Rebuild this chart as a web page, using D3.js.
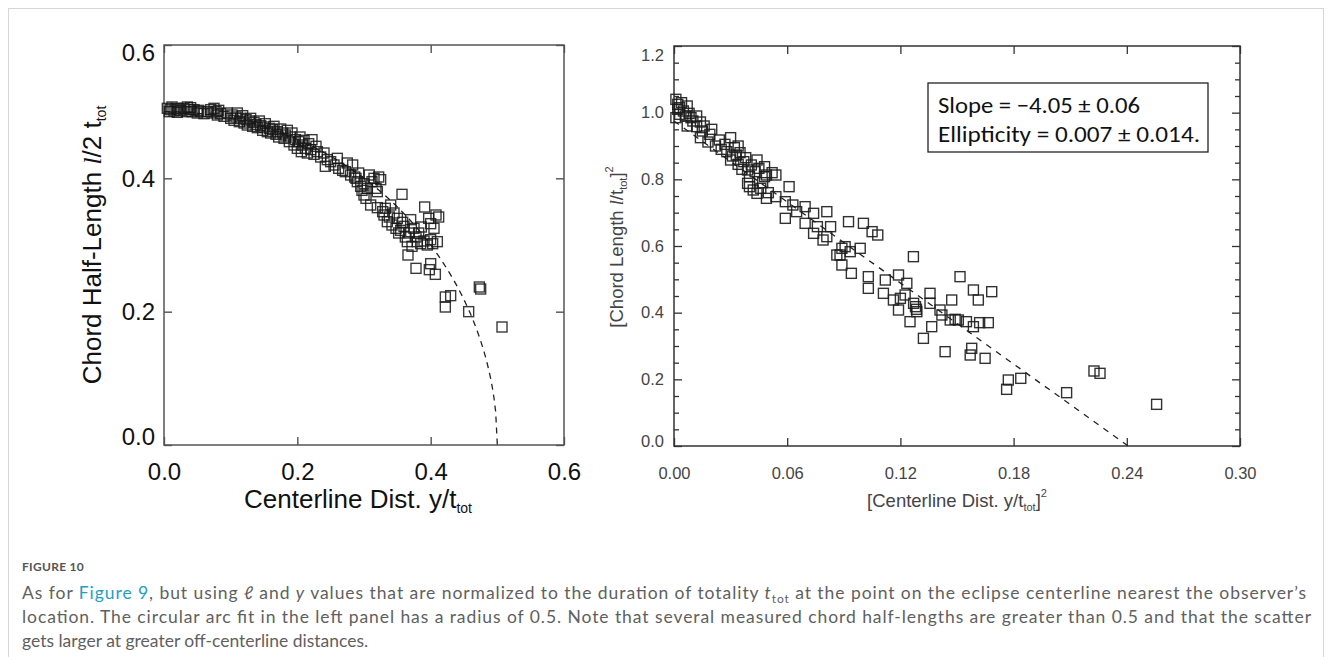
<!DOCTYPE html>
<html>
<head>
<meta charset="utf-8">
<script src="https://cdn.jsdelivr.net/npm/d3@7"></script>
<style>
  body { margin: 0; background: #fff; }
  svg { display: block; }
</style>
</head>
<body>
<svg id="chart" width="1332" height="657"></svg>
<script>
// left panel: centerline distance y/t_tot vs chord half-length l/2 t_tot
const leftPoints = [
  [0.005,0.505],[0.008,0.500],[0.010,0.503],[0.012,0.507],[0.015,0.501],[0.018,0.505],[0.020,0.499],
  [0.022,0.504],[0.025,0.502],[0.030,0.505],[0.033,0.500],[0.035,0.507],[0.038,0.503],[0.040,0.506],
  [0.042,0.500],[0.045,0.503],[0.050,0.498],[0.052,0.502],[0.055,0.500],[0.060,0.497],[0.065,0.500],
  [0.070,0.503],[0.072,0.498],[0.075,0.505],[0.078,0.500],[0.080,0.495],[0.082,0.502],[0.085,0.497],
  [0.090,0.493],[0.095,0.498],[0.100,0.490],[0.102,0.495],[0.105,0.487],[0.108,0.492],[0.110,0.498],
  [0.113,0.485],[0.115,0.490],[0.118,0.494],[0.120,0.483],[0.123,0.488],[0.125,0.480],[0.128,0.486],
  [0.130,0.490],[0.133,0.478],[0.135,0.484],[0.138,0.481],[0.140,0.476],[0.143,0.486],[0.145,0.479],
  [0.148,0.472],[0.150,0.477],[0.152,0.482],[0.155,0.470],[0.158,0.475],[0.160,0.468],[0.163,0.473],
  [0.165,0.478],[0.168,0.466],[0.170,0.470],[0.172,0.462],[0.175,0.474],[0.178,0.468],[0.180,0.460],
  [0.182,0.465],[0.185,0.472],[0.188,0.455],[0.190,0.462],[0.192,0.468],[0.195,0.450],[0.197,0.458],
  [0.200,0.445],[0.202,0.455],[0.204,0.462],[0.206,0.440],[0.208,0.450],[0.210,0.457],[0.212,0.445],
  [0.215,0.438],[0.217,0.452],[0.220,0.443],[0.222,0.458],[0.225,0.436],[0.228,0.448],[0.230,0.440],
  [0.235,0.432],[0.240,0.438],[0.242,0.418],[0.245,0.428],[0.250,0.425],[0.255,0.420],[0.260,0.430],
  [0.262,0.415],[0.268,0.412],[0.272,0.410],[0.275,0.423],[0.280,0.405],[0.283,0.420],[0.286,0.402],
  [0.288,0.400],[0.290,0.395],[0.292,0.408],[0.295,0.388],[0.297,0.382],[0.300,0.392],[0.300,0.375],
  [0.303,0.370],[0.305,0.385],[0.308,0.405],[0.310,0.360],[0.312,0.395],[0.315,0.400],[0.318,0.385],
  [0.320,0.380],[0.320,0.356],[0.322,0.402],[0.325,0.398],[0.328,0.350],[0.330,0.345],[0.332,0.355],
  [0.335,0.335],[0.338,0.342],[0.340,0.360],[0.342,0.330],[0.345,0.348],[0.348,0.325],[0.350,0.340],
  [0.352,0.318],[0.355,0.322],[0.357,0.376],[0.358,0.334],[0.360,0.328],[0.362,0.312],[0.365,0.305],
  [0.368,0.318],[0.370,0.338],[0.372,0.298],[0.375,0.325],[0.378,0.312],[0.380,0.305],[0.382,0.318],
  [0.385,0.302],[0.386,0.327],[0.390,0.306],[0.391,0.357],[0.395,0.300],[0.397,0.340],[0.400,0.308],
  [0.400,0.332],[0.403,0.302],[0.405,0.325],[0.408,0.345],[0.410,0.305],[0.412,0.342],
  [0.366,0.285],[0.378,0.265],[0.398,0.263],[0.400,0.272],[0.407,0.256],[0.422,0.222],[0.422,0.207],
  [0.430,0.224],[0.457,0.200],[0.473,0.237],[0.475,0.234],[0.507,0.177]
];

// right panel: [y/t_tot]^2 vs [l/t_tot]^2
const rightPoints = [
  [0.001,1.040],[0.002,1.025],[0.002,1.010],[0.003,0.995],[0.001,0.985],[0.004,1.030],[0.005,1.005],
  [0.006,0.990],[0.003,1.015],[0.007,1.020],[0.008,0.998],[0.009,0.985],[0.010,0.975],[0.007,0.960],
  [0.012,0.990],[0.012,0.958],[0.014,0.972],[0.015,0.945],[0.016,0.960],[0.014,0.925],[0.018,0.912],
  [0.019,0.935],[0.020,0.950],[0.022,0.900],[0.024,0.918],[0.025,0.890],[0.027,0.905],[0.028,0.883],
  [0.030,0.858],[0.030,0.925],[0.031,0.870],[0.032,0.895],[0.033,0.873],[0.034,0.900],[0.034,0.845],
  [0.035,0.880],[0.036,0.830],[0.037,0.853],[0.038,0.865],[0.039,0.788],[0.039,0.828],[0.040,0.808],
  [0.040,0.778],[0.041,0.843],[0.042,0.768],[0.043,0.823],[0.044,0.858],[0.044,0.758],[0.045,0.833],
  [0.046,0.773],[0.047,0.790],[0.048,0.838],[0.048,0.808],[0.049,0.743],[0.049,0.813],[0.050,0.760],
  [0.052,0.820],[0.054,0.813],[0.054,0.748],
  [0.059,0.733],[0.059,0.683],[0.061,0.778],[0.063,0.723],[0.065,0.703],[0.0695,0.718],[0.0695,0.668],
  [0.074,0.698],[0.074,0.638],[0.076,0.658],[0.079,0.618],[0.081,0.703],[0.081,0.628],[0.083,0.658],
  [0.0863,0.573],[0.088,0.573],[0.089,0.593],[0.089,0.543],[0.0907,0.598],[0.0925,0.673],[0.0934,0.583],
  [0.094,0.518],[0.0987,0.593],[0.1004,0.668],[0.105,0.643],[0.108,0.633],[0.103,0.508],[0.103,0.473],
  [0.111,0.458],[0.112,0.498],[0.1163,0.438],[0.119,0.513],[0.119,0.408],[0.120,0.443],[0.1225,0.453],
  [0.1234,0.488],[0.1251,0.373],[0.1269,0.568],[0.127,0.428],[0.128,0.418],[0.1285,0.410],[0.1287,0.403],
  [0.1322,0.323],[0.1357,0.458],[0.1357,0.428],[0.1366,0.358],[0.141,0.408],[0.142,0.393],[0.1437,0.283],
  [0.1464,0.378],[0.1472,0.438],[0.149,0.380],[0.1507,0.378],[0.1516,0.508],[0.155,0.373],[0.157,0.273],
  [0.1578,0.293],[0.1587,0.468],[0.1587,0.358],[0.1613,0.438],[0.162,0.370],[0.1649,0.263],[0.1666,0.370],
  [0.1684,0.463],[0.1763,0.170],[0.1772,0.198],[0.1838,0.203],[0.2081,0.160],[0.2226,0.225],[0.2258,0.218],
  [0.2558,0.125]
];

const leftTicks = [0, 0.2, 0.4, 0.6];
const rightXTicks = [0, 0.06, 0.12, 0.18, 0.24, 0.30];
const rightYTicks = [0, 0.2, 0.4, 0.6, 0.8, 1.0, 1.2];
const rightYMinor = [0.05,0.1,0.15,0.25,0.3,0.35,0.45,0.5,0.55,0.65,0.7,0.75,0.85,0.9,0.95,1.05,1.1,1.15];

// fits
const arcRadius = 0.5;
const fitSlope = -4.05;
const fitIntercept = 0.975;
const fitText = ['Slope = \u22124.05 \u00b1 0.06', 'Ellipticity = 0.007 \u00b1 0.014.'];

const captionLines = [
  'As for Figure 9, but using \u2113 and y values that are normalized to the duration of totality t_tot at the point on the eclipse centerline nearest the observer\u2019s',
  'location. The circular arc fit in the left panel has a radius of 0.5. Note that several measured chord half-lengths are greater than 0.5 and that the scatter',
  'gets larger at greater off-centerline distances.'
];

const svg = d3.select('#chart');

// figure border
svg.append('rect')
  .attr('x', 8.5).attr('y', 8.5)
  .attr('width', 1315).attr('height', 700)
  .attr('fill', 'none').attr('stroke', '#d6d6d6');

// ---------- left panel ----------
const L = { left: 164, top: 45, width: 400, height: 400 };
const xL = d3.scaleLinear().domain([0, 0.6]).range([L.left, L.left + L.width]);
const yL = d3.scaleLinear().domain([0, 0.6]).range([L.top + L.height, L.top]);
const gL = svg.append('g');

const fontL = '"Liberation Sans", Arial, Helvetica, sans-serif';

gL.append('g').attr('transform', `translate(0,${L.top + L.height})`)
  .call(d3.axisBottom(xL).tickValues(leftTicks).tickFormat(d3.format('.1f')).tickSize(-8).tickPadding(18))
  .call(g => g.select('.domain').remove())
  .call(g => g.selectAll('text').attr('font-size', 24).attr('font-family', fontL).attr('fill', '#111'));
gL.append('g').attr('transform', `translate(0,${L.top})`)
  .call(d3.axisTop(xL).tickValues(leftTicks).tickFormat('').tickSize(-8))
  .call(g => g.select('.domain').remove());
gL.append('g').attr('transform', `translate(${L.left},0)`)
  .call(d3.axisLeft(yL).tickValues(leftTicks).tickFormat(d3.format('.1f')).tickSize(-8).tickPadding(9))
  .call(g => g.select('.domain').remove())
  .call(g => g.selectAll('text').attr('font-size', 24).attr('font-family', fontL).attr('fill', '#111')
    .attr('y', d => d === 0.6 ? 8 : (d === 0 ? -8 : 0)));
gL.append('g').attr('transform', `translate(${L.left + L.width},0)`)
  .call(d3.axisRight(yL).tickValues(leftTicks).tickFormat('').tickSize(-8))
  .call(g => g.select('.domain').remove());
gL.selectAll('.tick line').attr('stroke', '#444').attr('stroke-width', 1.3);

gL.append('rect')
  .attr('x', L.left).attr('y', L.top).attr('width', L.width).attr('height', L.height)
  .attr('fill', 'none').attr('stroke', '#555').attr('stroke-width', 1.5);

// circular arc fit
const arc = d3.range(0, 201).map(i => {
  const x = arcRadius * i / 200;
  return [x, Math.sqrt(Math.max(0, arcRadius * arcRadius - x * x))];
});
gL.append('path')
  .datum(arc)
  .attr('d', d3.line().x(d => xL(d[0])).y(d => yL(d[1])))
  .attr('fill', 'none').attr('stroke', '#222').attr('stroke-width', 1.3)
  .attr('stroke-dasharray', '6,5');

const sqL = 10;
gL.selectAll('rect.pt')
  .data(leftPoints)
  .enter().append('rect')
  .attr('class', 'pt')
  .attr('x', d => xL(d[0]) - sqL / 2)
  .attr('y', d => yL(d[1]) - sqL / 2)
  .attr('width', sqL).attr('height', sqL)
  .attr('fill', 'none').attr('stroke', '#181818').attr('stroke-width', 1.4).attr('stroke-opacity', 0.85);

// titles
const tL = gL.append('text')
  .attr('x', 358).attr('y', 508)
  .attr('text-anchor', 'middle')
  .attr('font-family', fontL).attr('font-size', 26).attr('fill', '#111');
tL.append('tspan').text('Centerline Dist. y/t');
tL.append('tspan').attr('font-size', 14).attr('dy', 5).text('tot');

const tLy = gL.append('text')
  .attr('transform', 'translate(101,245) rotate(-90)')
  .attr('text-anchor', 'middle')
  .attr('font-family', fontL).attr('font-size', 26).attr('fill', '#111');
tLy.append('tspan').text('Chord Half-Length ');
tLy.append('tspan').attr('font-family', '"Liberation Serif", serif').attr('font-style', 'italic').text('l');
tLy.append('tspan').text('/2 t');
tLy.append('tspan').attr('font-size', 14).attr('dy', 5).text('tot');

// ---------- right panel ----------
const R = { left: 674, top: 46, width: 566, height: 400 };
const xR = d3.scaleLinear().domain([0, 0.3]).range([R.left, R.left + R.width]);
const yR = d3.scaleLinear().domain([0, 1.2]).range([R.top + R.height, R.top]);
const gR = svg.append('g');
const fontR = '"Liberation Sans", Arial, sans-serif';

gR.append('g').attr('transform', `translate(0,${R.top + R.height})`)
  .call(d3.axisBottom(xR).tickValues(rightXTicks).tickFormat(d3.format('.2f')).tickSize(-8).tickPadding(21))
  .call(g => g.select('.domain').remove())
  .call(g => g.selectAll('text').attr('font-size', 16.5).attr('font-family', fontR).attr('fill', '#444'));
gR.append('g').attr('transform', `translate(0,${R.top})`)
  .call(d3.axisTop(xR).tickValues(rightXTicks).tickFormat('').tickSize(-8))
  .call(g => g.select('.domain').remove());
gR.append('g').attr('transform', `translate(${R.left},0)`)
  .call(d3.axisLeft(yR).tickValues(rightYTicks).tickFormat(d3.format('.1f')).tickSize(-8).tickPadding(10))
  .call(g => g.select('.domain').remove())
  .call(g => g.selectAll('text').attr('font-size', 16.5).attr('font-family', fontR).attr('fill', '#444')
    .attr('y', d => d === 1.2 ? 9 : (d === 0 ? -5 : 0)));
gR.append('g').attr('transform', `translate(${R.left + R.width},0)`)
  .call(d3.axisRight(yR).tickValues(rightYTicks).tickFormat('').tickSize(-8))
  .call(g => g.select('.domain').remove());
gR.append('g').attr('transform', `translate(${R.left},0)`)
  .call(d3.axisLeft(yR).tickValues(rightYMinor).tickFormat('').tickSize(-5))
  .call(g => g.select('.domain').remove());
gR.append('g').attr('transform', `translate(${R.left + R.width},0)`)
  .call(d3.axisRight(yR).tickValues(rightYMinor).tickFormat('').tickSize(-5))
  .call(g => g.select('.domain').remove());
gR.selectAll('.tick line').attr('stroke', '#333').attr('stroke-width', 1.3);

gR.append('rect')
  .attr('x', R.left).attr('y', R.top).attr('width', R.width).attr('height', R.height)
  .attr('fill', 'none').attr('stroke', '#333').attr('stroke-width', 1.5);

// linear fit
const xEnd = -fitIntercept / fitSlope;
gR.append('path')
  .datum([[0, fitIntercept], [xEnd, 0]])
  .attr('d', d3.line().x(d => xR(d[0])).y(d => yR(d[1])))
  .attr('fill', 'none').attr('stroke', '#222').attr('stroke-width', 1.3)
  .attr('stroke-dasharray', '6,6');

const sqR = 10;
gR.selectAll('rect.pt')
  .data(rightPoints)
  .enter().append('rect')
  .attr('class', 'pt')
  .attr('x', d => xR(d[0]) - sqR / 2)
  .attr('y', d => yR(d[1]) - sqR / 2)
  .attr('width', sqR).attr('height', sqR)
  .attr('fill', 'none').attr('stroke', '#1c1c1c').attr('stroke-width', 1.4).attr('stroke-opacity', 0.9);

// fit box
gR.append('rect')
  .attr('x', 928).attr('y', 83).attr('width', 280).attr('height', 69)
  .attr('fill', '#fff').attr('stroke', '#222').attr('stroke-width', 1.3);
const boxW = [202, 262];
fitText.forEach((t, i) => {
  gR.append('text')
    .attr('x', 938).attr('y', 113 + i * 28.5)
    .attr('font-family', 'Carlito, Calibri, Lato, sans-serif')
    .attr('font-size', 23).attr('fill', '#111')
    .attr('textLength', boxW[i]).attr('lengthAdjust', 'spacingAndGlyphs')
    .text(t);
});

// titles
const tR = gR.append('text')
  .attr('x', 957).attr('y', 507)
  .attr('text-anchor', 'middle')
  .attr('font-family', fontR).attr('font-size', 18.5).attr('fill', '#444');
tR.append('tspan').text('[Centerline Dist. y/t');
tR.append('tspan').attr('font-size', 11).attr('dy', 4).text('tot');
tR.append('tspan').attr('dy', -4).text(']');
tR.append('tspan').attr('font-size', 11).attr('dy', -10).text('2');

const tRy = gR.append('text')
  .attr('transform', 'translate(623,247) rotate(-90)')
  .attr('text-anchor', 'middle')
  .attr('font-family', fontR).attr('font-size', 18.5).attr('fill', '#444');
tRy.append('tspan').text('[Chord Length ');
tRy.append('tspan').attr('font-family', '"Liberation Serif", serif').attr('font-style', 'italic').text('l');
tRy.append('tspan').text('/t');
tRy.append('tspan').attr('font-size', 11).attr('dy', 4).text('tot');
tRy.append('tspan').attr('dy', -4).text(']');
tRy.append('tspan').attr('font-size', 11).attr('dy', -10).text('2');

// ---------- caption ----------
const capFont = 'Lato, "Open Sans", sans-serif';
svg.append('text')
  .attr('x', 22).attr('y', 571)
  .attr('font-family', capFont).attr('font-size', 12).attr('font-weight', 'bold')
  .attr('fill', '#555').attr('letter-spacing', 0.3)
  .text('FIGURE 10');

const capW = [1284, 1289, null];
const capY = [599, 623, 647];
captionLines.forEach((line, i) => {
  const t = svg.append('text')
    .attr('x', 22).attr('y', capY[i])
    .attr('font-family', capFont).attr('font-size', 17.5).attr('fill', '#5f5f5f');
  if (i === 0) {
    t.append('tspan').text('As for ');
    t.append('tspan').attr('fill', '#1f9ec2').text('Figure 9');
    t.append('tspan').text(', but using ');
    t.append('tspan').attr('font-style', 'italic').text('\u2113');
    t.append('tspan').text(' and ');
    t.append('tspan').attr('font-style', 'italic').text('y');
    t.append('tspan').text(' values that are normalized to the duration of totality ');
    t.append('tspan').attr('font-style', 'italic').text('t');
    t.append('tspan').attr('font-size', 12).attr('dy', 4).text('tot');
    t.append('tspan').attr('dy', -4).text(' at the point on the eclipse centerline nearest the observer\u2019s');
  } else {
    t.text(line);
  }
  if (capW[i]) t.attr('textLength', capW[i]).attr('lengthAdjust', 'spacing');
});
</script>
</body>
</html>
